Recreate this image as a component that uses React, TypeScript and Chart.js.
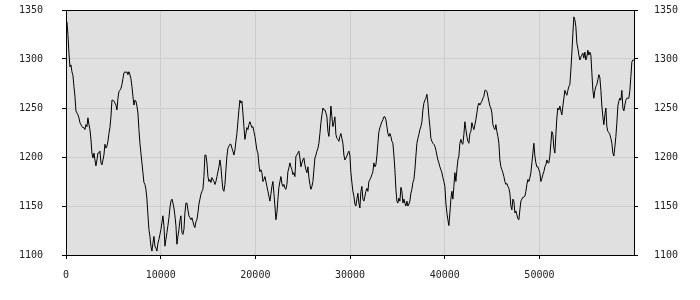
import React, { useEffect, useRef } from "react";
import { Chart, registerables } from "chart.js";

Chart.register(...registerables);

// Sampling grid along the x axis (one sample per ~105 units)
const X_START = 100;
const X_STEP = 105.6;

// Series values, left to right
const seg1: number[] = [
  1338, 1325, 1306, 1292, 1294, 1287, 1283, 1272, 1262, 1247, 1245, 1243, 1240, 1235, 1233, 1231,
  1230, 1230, 1228, 1233, 1231, 1240, 1233, 1228, 1218, 1204, 1199, 1204, 1197, 1191, 1197, 1204,
  1204, 1206, 1194, 1192, 1197, 1202, 1213, 1209, 1211, 1216, 1224, 1230, 1241, 1258, 1258, 1257,
  1255, 1253, 1248, 1260, 1267, 1268, 1270, 1274, 1280, 1286, 1287, 1286, 1287, 1284, 1287, 1284,
  1280, 1272, 1262, 1253, 1258, 1257, 1252, 1245, 1228, 1214, 1204, 1194, 1184, 1174, 1172, 1167,
  1157, 1141, 1126, 1119, 1109, 1104, 1112, 1119, 1109, 1107, 1104, 1112, 1116, 1121, 1126, 1133,
  1140, 1130, 1109, 1116, 1123, 1130, 1138, 1148, 1155, 1157, 1153, 1148, 1140, 1130, 1111, 1119,
  1126, 1135, 1140, 1123, 1121, 1126, 1143, 1153, 1153, 1146, 1140, 1138, 1136, 1138, 1134, 1130,
  1128, 1134, 1136, 1143, 1152, 1157, 1162, 1165, 1167, 1180, 1202, 1202, 1194, 1180, 1175, 1177,
  1174, 1179, 1177, 1175, 1172, 1175, 1180, 1185, 1190, 1197, 1190, 1177, 1167, 1165, 1172, 1187,
  1201, 1209, 1211, 1213, 1213, 1209, 1206, 1202, 1207, 1216, 1224, 1236, 1248, 1258,
];

const seg2: number[] = [
  1255, 1257, 1245, 1231, 1218, 1224, 1230, 1228, 1233, 1236, 1233, 1230, 1231, 1226, 1221, 1214,
  1207, 1204, 1192, 1185, 1187, 1184, 1175, 1177, 1180, 1175, 1170, 1165, 1160, 1155, 1162, 1170,
  1175, 1163, 1150, 1136, 1143, 1157, 1169, 1175, 1180, 1173, 1170, 1172, 1168, 1167, 1172, 1185,
  1189, 1194, 1190, 1187, 1182, 1184, 1180, 1201, 1202, 1204, 1206, 1199, 1190, 1194, 1197, 1199,
  1192, 1187, 1184, 1190, 1179, 1172, 1167, 1170, 1175, 1187, 1199, 1202, 1206, 1209, 1214, 1224,
  1235, 1243, 1250, 1248, 1248, 1245, 1241, 1226, 1221, 1235, 1252, 1241, 1231, 1235, 1241, 1223,
  1219, 1218, 1216, 1221, 1224, 1219, 1214, 1202, 1197, 1199, 1201, 1204, 1206, 1202, 1184, 1174,
  1165, 1160, 1152, 1150, 1157, 1163, 1153, 1148, 1165, 1170, 1157, 1155, 1160, 1165, 1168, 1165,
  1175, 1177, 1179, 1182, 1185, 1194, 1190, 1192, 1201, 1214, 1226, 1230, 1233, 1236, 1238, 1241,
  1241, 1238, 1231, 1224, 1221, 1224, 1221, 1216, 1214, 1202, 1187, 1167, 1155, 1153, 1158, 1155,
  1169, 1165, 1153, 1157, 1153, 1150, 1155, 1150, 1152, 1155, 1163, 1167, 1174, 1177, 1187, 1201,
  1214, 1219, 1223, 1228, 1231, 1236, 1248, 1255, 1258, 1260, 1264, 1255, 1241, 1231, 1219, 1216,
  1214, 1213, 1211, 1207, 1202, 1197, 1194,
];

const seg3: number[] = [
  1190, 1187, 1184, 1179, 1175, 1170, 1153, 1143, 1136, 1130, 1143, 1157, 1165, 1157, 1170, 1184,
  1175, 1187, 1197, 1201, 1214, 1218, 1214, 1213, 1223, 1236, 1228, 1221, 1216, 1214, 1224, 1226,
  1235, 1231, 1228, 1233, 1238, 1245, 1252, 1255, 1253, 1255, 1257, 1260, 1262, 1268, 1268, 1267,
  1262, 1257, 1252, 1250, 1245, 1233, 1230, 1228, 1233, 1226, 1221, 1214, 1197, 1190, 1187, 1184,
  1180, 1175, 1172, 1173, 1170, 1168, 1163, 1150, 1146, 1157, 1155, 1143, 1145, 1141, 1137, 1136,
  1146, 1155, 1157, 1159, 1159, 1160, 1165, 1172, 1177, 1175, 1179, 1184, 1194, 1204, 1214, 1201,
  1194, 1190, 1190, 1187, 1184, 1175, 1178, 1182, 1185, 1190, 1192, 1197, 1194, 1194, 1201, 1214,
  1226, 1223, 1209, 1204, 1223, 1240, 1250, 1248, 1252, 1247, 1243, 1252, 1260, 1268, 1265, 1263,
  1268, 1272, 1274, 1289, 1306, 1326, 1343, 1340, 1333, 1316, 1311, 1304, 1299, 1302, 1304, 1306,
  1301, 1307, 1299, 1302, 1309, 1304, 1307, 1304, 1286, 1268, 1260, 1268, 1272, 1274, 1279, 1284,
  1281, 1268, 1252, 1241, 1233, 1243, 1250, 1231, 1226, 1225, 1223, 1219, 1214, 1204, 1201, 1210,
  1221, 1235, 1252, 1257, 1260, 1258, 1268, 1250, 1247, 1253, 1258, 1260, 1260, 1260, 1268, 1282,
  1297, 1299, 1299,
];

const xTicks: number[] = [0, 10000, 20000, 30000, 40000, 50000];
const yTicks: number[] = [1100, 1150, 1200, 1250, 1300, 1350];

const FONT = { family: "'DejaVu Sans Mono', monospace", size: 10 };
const LABEL_COLOR = "#222";

const bgPlugin = {
  id: "plotBg",
  beforeDraw(chart: any) {
    const { ctx, chartArea } = chart;
    ctx.save();
    ctx.fillStyle = "#e0e0e0";
    ctx.fillRect(chartArea.left, chartArea.top, chartArea.right - chartArea.left, chartArea.bottom - chartArea.top);
    ctx.restore();
  },
  afterDraw(chart: any) {
    const { ctx, chartArea } = chart;
    ctx.save();
    ctx.strokeStyle = "#000";
    ctx.lineWidth = 1;
    ctx.strokeRect(chartArea.left + 0.5, chartArea.top + 0.5, chartArea.right - chartArea.left, chartArea.bottom - chartArea.top);
    ctx.restore();
  },
};

const zeroPad = (s: any) => {
  s.paddingTop = 0;
  s.paddingBottom = 0;
  s.paddingLeft = 0;
  s.paddingRight = 0;
};

export default function App() {
  const ref = useRef<HTMLCanvasElement | null>(null);

  useEffect(() => {
    if (!ref.current) return;
    const values = [...seg1, ...seg2, ...seg3];
    const points = values.map((v, i) => ({ x: X_START + i * X_STEP, y: v }));
    const chart = new Chart(ref.current, {
      type: "line",
      data: {
        datasets: [
          {
            data: points,
            borderColor: "#000",
            borderWidth: 1,
            pointRadius: 0,
            tension: 0,
            fill: false,
            yAxisID: "y",
          },
        ],
      },
      options: {
        animation: false,
        responsive: false,
        maintainAspectRatio: false,
        parsing: false,
        normalized: true,
        layout: { padding: { top: 10, left: 0, right: 0, bottom: 0 } },
        plugins: { legend: { display: false }, tooltip: { enabled: false } },
        scales: {
          x: {
            type: "linear",
            min: 0,
            max: 59990,
            afterBuildTicks: (s: any) => {
              s.ticks = xTicks.map((v) => ({ value: v }));
            },
            ticks: {
              includeBounds: false,
              font: FONT,
              color: LABEL_COLOR,
              padding: 10,
              maxRotation: 0,
              autoSkip: false,
              callback: (v: any) => String(v),
            },
            grid: { color: "#cdcdcd", tickColor: "#000", tickLength: 4 },
            border: { color: "#000" },
            afterFit: (s: any) => {
              s.height = 45;
              zeroPad(s);
            },
          },
          y: {
            type: "linear",
            position: "left",
            min: 1100,
            max: 1350,
            afterBuildTicks: (s: any) => {
              s.ticks = yTicks.map((v) => ({ value: v }));
            },
            ticks: {
              font: FONT,
              color: LABEL_COLOR,
              padding: 19,
              autoSkip: false,
              callback: (v: any) => String(v),
            },
            grid: { color: "#cdcdcd", tickColor: "#000", tickLength: 4 },
            border: { color: "#000" },
            afterFit: (s: any) => {
              s.width = 66;
              zeroPad(s);
            },
          },
          y2: {
            type: "linear",
            position: "right",
            min: 1100,
            max: 1350,
            afterBuildTicks: (s: any) => {
              s.ticks = yTicks.map((v) => ({ value: v }));
            },
            ticks: {
              font: FONT,
              color: LABEL_COLOR,
              padding: 16,
              autoSkip: false,
              callback: (v: any) => String(v),
            },
            grid: { drawOnChartArea: false, color: "#cdcdcd", tickColor: "#000", tickLength: 4 },
            border: { color: "#000" },
            afterFit: (s: any) => {
              s.width = 66;
              zeroPad(s);
            },
          },
        },
      },
      plugins: [bgPlugin],
    });
    return () => chart.destroy();
  }, []);

  return (
    <div style={{ position: "absolute", left: 0, top: 0, width: 700, height: 300, background: "#fff" }}>
      <canvas ref={ref} width={700} height={300} style={{ width: 700, height: 300, display: "block" }} />
    </div>
  );
}
